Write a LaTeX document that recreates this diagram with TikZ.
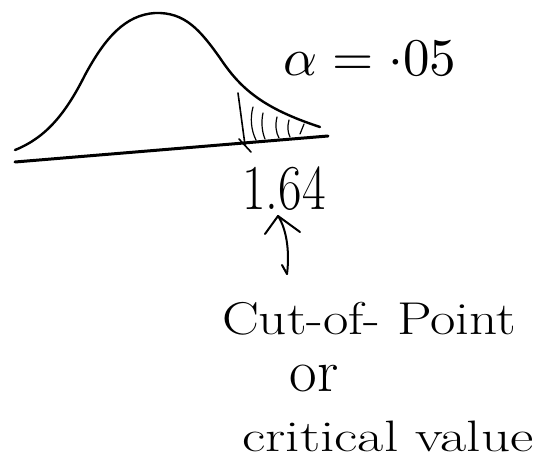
\documentclass[tikz,border=0pt]{standalone}
\usepackage{graphicx}
\usetikzlibrary{arrows.meta,calc}
\tikzset{
  pen/.style={line width=2.4pt, line cap=round, line join=round, black},
  thinpen/.style={line width=1.6pt, line cap=round, black},
  hand/.style={inner sep=0pt, anchor=center, black}
}
\begin{document}
\begin{tikzpicture}[x=1pt,y=-1pt]
\useasboundingbox[fill=white] (0,0) rectangle (538,460);
% bell curve
\draw[pen] (15,150) .. controls (45,138) and (65,115) .. (85,75)
  .. controls (105,38) and (125,15) .. (155,13)
  .. controls (185,12) and (200,30) .. (220,58)
  .. controls (240,88) and (262,108) .. (320,127);
% baseline
\draw[pen, line width=3pt] (15,162) -- (328,136);
% cut-off line and cross
\coordinate (cut) at (245,145);
\draw[thinpen] (238,93) -- (cut);
\draw[thinpen] ($(cut)+(-6,-6)$) -- ($(cut)+(6,7)$);
% hatching
\draw[thinpen, line width=1.2pt] (253,107) .. controls (250,118) and (251,130) .. (256,140);
\draw[thinpen, line width=1.2pt] (263,113) .. controls (261,122) and (262,132) .. (265,139);
\draw[thinpen, line width=1.2pt] (277,117) .. controls (275,125) and (276,133) .. (279,138);
\draw[thinpen, line width=1.2pt] (289,120) .. controls (287,127) and (288,133) .. (290,137);
\draw[thinpen, line width=1.2pt] (304,124) -- (300,134);
% labels
\node[hand] (alpha) at (370,58) {\scalebox{5.3}{$\alpha = {\cdot}05$}};
\node[hand, font=\fontsize{64}{70}\selectfont] (val) at (284,189) {\scalebox{0.8}[1]{1.64}};
\node[hand, font=\fontsize{46}{52}\selectfont] (cut1) at (369,319) {\scalebox{1.2}[1]{Cut-of- Point}};
\node[hand, font=\fontsize{60}{66}\selectfont] (or) at (314,378) {or};
\node[hand, font=\fontsize{44}{50}\selectfont] (crit) at (388,436) {\scalebox{1.3}[1]{critical value}};
% arrow
\coordinate (atip) at (278,216);
\coordinate (abot) at (287,274);
\draw[pen, line width=2pt] (abot) .. controls (290,250) and (286,228) .. (atip);
\draw[pen, line width=2pt] (265,234) -- (atip) -- (300,232);
\draw[pen, line width=2pt] (abot) -- (282,265);
\end{tikzpicture}
\end{document}
